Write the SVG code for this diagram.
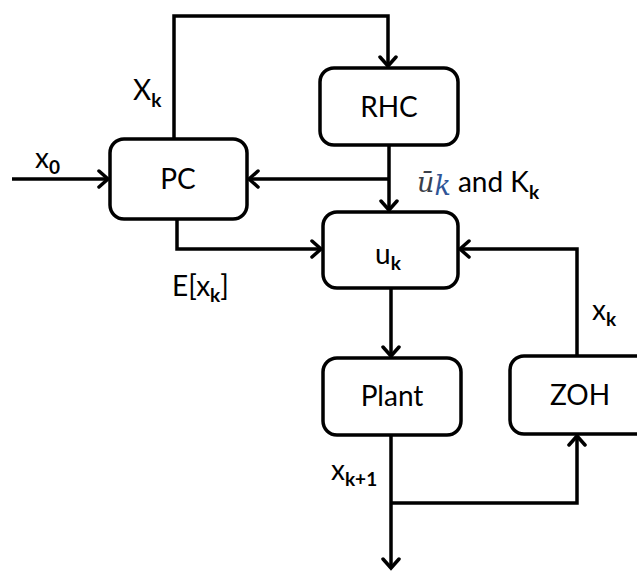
<svg xmlns="http://www.w3.org/2000/svg" width="637" height="572" viewBox="0 0 637 572">
  <style>
    .box { fill: #ffffff; stroke: #000000; stroke-width: 3.5; }
    .wire { fill: none; stroke: #000000; stroke-width: 3.5; stroke-linejoin: miter; }
    .name { font-family: Lato, "Open Sans", sans-serif; font-size: 28px; fill: #000000; text-anchor: middle; }
    .lbl { font-family: Lato, "Open Sans", sans-serif; font-size: 28px; fill: #000000; }
    .sub { font-size: 19px; font-weight: bold; }
    .math { font-family: "DejaVu Serif", "Liberation Serif", serif; font-style: italic; font-size: 27px; }
  </style>
  <defs>
    <marker id="arrow" markerUnits="userSpaceOnUse" markerWidth="20" markerHeight="20" viewBox="-12 -10 14 20" refX="0" refY="0" orient="auto">
      <path d="M-9,-8 L0,0 L-9,8" fill="none" stroke="#000000" stroke-width="3.5" stroke-linecap="round"/>
    </marker>
  </defs>

  <!-- signal lines -->
  <g id="connectors">
    <path class="wire" d="M12,179 L108,179" marker-end="url(#arrow)"/>
    <path class="wire" d="M174,139 L174,16 L388,16 L388,66" marker-end="url(#arrow)"/>
    <path class="wire" d="M389,145 L389,210" marker-end="url(#arrow)"/>
    <path class="wire" d="M389,179 L249,179" marker-end="url(#arrow)"/>
    <path class="wire" d="M177,219 L177,249 L321,249" marker-end="url(#arrow)"/>
    <path class="wire" d="M577,356 L577,249 L460,249" marker-end="url(#arrow)"/>
    <path class="wire" d="M391,288 L391,356" marker-end="url(#arrow)"/>
    <path class="wire" d="M391,435 L391,568" marker-end="url(#arrow)"/>
    <path class="wire" d="M391,503 L577,503 L577,436" marker-end="url(#arrow)"/>
  </g>

  <g id="rhc">
    <rect class="box" x="320" y="68" width="138" height="77" rx="14"/>
    <text class="name" x="389" y="117">RHC</text>
  </g>
  <g id="pc">
    <rect class="box" x="110" y="139" width="137" height="80" rx="14"/>
    <text class="name" x="178" y="189">PC</text>
  </g>
  <g id="uk">
    <rect class="box" x="323" y="212" width="135" height="76" rx="14"/>
    <text class="lbl" x="375" y="264">u<tspan class="sub" dy="6">k</tspan></text>
  </g>
  <g id="plant">
    <rect class="box" x="323" y="358" width="138" height="77" rx="14"/>
    <text class="name" x="392" y="406">Plant</text>
  </g>
  <g id="zoh">
    <rect class="box" x="510" y="356" width="140" height="78" rx="14"/>
    <text class="name" x="580" y="405">ZOH</text>
  </g>

  <!-- signal labels -->
  <g id="labels">
    <text class="lbl" x="133" y="100">X<tspan class="sub" dy="7">k</tspan></text>
    <text class="lbl" x="35" y="168">x<tspan class="sub" dy="6">0</tspan></text>
    <text x="417" y="192"><tspan class="math" fill="#3a3f4a">ū</tspan><tspan class="math" font-size="23px" dy="3" fill="#2f5597">k</tspan><tspan class="lbl" dy="-3"> and K</tspan><tspan class="lbl sub" dy="7">k</tspan></text>
    <text class="lbl" x="172" y="296">E[x<tspan class="sub" dy="6">k</tspan><tspan dy="-6">]</tspan></text>
    <text class="lbl" x="592" y="320">x<tspan class="sub" dy="6">k</tspan></text>
    <text class="lbl" x="331" y="480">x<tspan class="sub" dy="6">k+1</tspan></text>
  </g>
</svg>
